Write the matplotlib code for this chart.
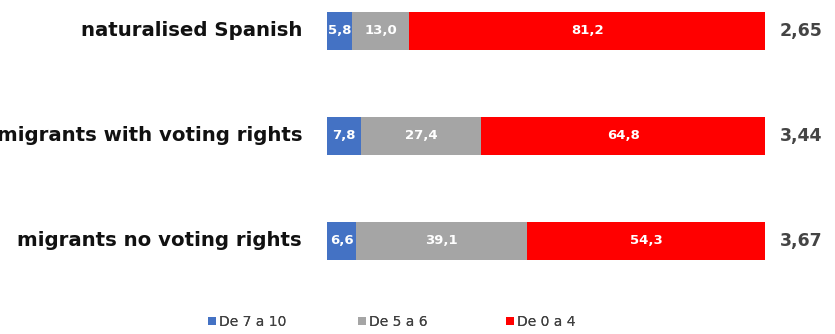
import matplotlib.pyplot as plt
from matplotlib.patches import Patch

groups = ["naturalised Spanish", "migrants with voting rights", "migrants no voting rights"]
high = [5.8, 7.8, 6.6]      # De 7 a 10
mid = [13.0, 27.4, 39.1]    # De 5 a 6
low = [81.2, 64.8, 54.3]    # De 0 a 4
means = ["2,65", "3,44", "3,67"]
series_names = ["De 7 a 10", "De 5 a 6", "De 0 a 4"]
colors = ["#4472C4", "#A5A5A5", "#FF0000"]


def fmt(v):
    return f"{v:.1f}".replace(".", ",")


fig = plt.figure(figsize=(8.35, 3.34), dpi=100)
ax = fig.add_axes([327 / 835, 59 / 334, 438 / 835, 275 / 334])

y = list(range(len(groups)))
left = [0.0] * len(groups)
for vals, color in zip([high, mid, low], colors):
    ax.barh(y, vals, left=left, height=0.37, color=color)
    for yi, l, v in zip(y, left, vals):
        ax.text(l + v / 2, yi, fmt(v), ha="center", va="center",
                color="white", fontsize=9.5, fontweight="bold")
    left = [l + v for l, v in zip(left, vals)]

ax.set_xlim(0, 100)
ax.set_ylim(2.324, -0.295)
ax.axis("off")

for yi, name, m in zip(y, groups, means):
    ax.text(-5.7, yi, name, ha="right", va="center", fontsize=14.2,
            fontweight="bold", color="#111111", clip_on=False)
    ax.text(103.3, yi, m, ha="left", va="center", fontsize=12.5,
            fontweight="bold", color="#444444", clip_on=False)

# one legend per entry so the columns sit at fixed positions
for name, color, x0 in zip(series_names, colors, [208, 358, 506]):
    leg = fig.legend([Patch(facecolor=color)], [name], loc="center left",
                     bbox_to_anchor=(x0 / 835, 0.036), frameon=False,
                     fontsize=10, handlelength=0.55, handleheight=0.55,
                     handletextpad=0.25, borderpad=0, borderaxespad=0,
                     labelcolor="#404040")
    fig.add_artist(leg)

fig.savefig("out.png", dpi=100)
